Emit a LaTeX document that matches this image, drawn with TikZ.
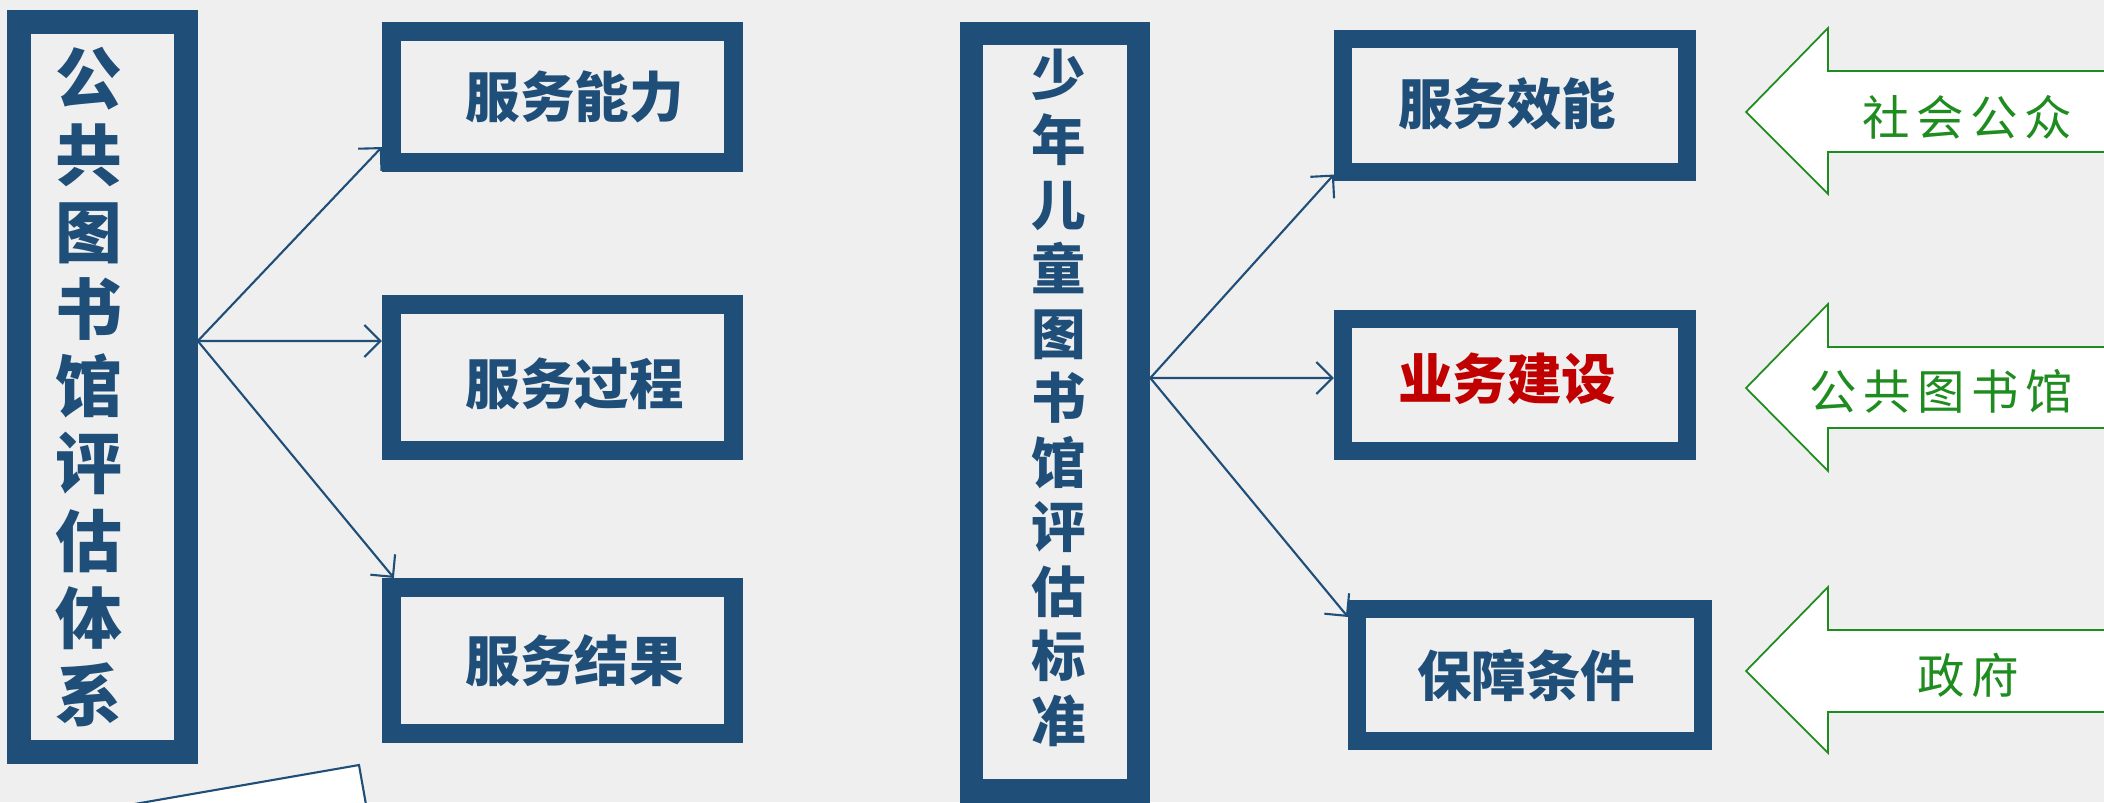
\documentclass[tikz,border=0pt]{standalone}
\usepackage{fontspec}
\usepackage{xcolor}
\usetikzlibrary{arrows.meta,positioning}
\newfontfamily\cjk{Noto Sans CJK SC}
\definecolor{boxblue}{HTML}{1F4E79}
\definecolor{markred}{HTML}{C00000}
\definecolor{sidegreen}{HTML}{1E8C1E}
\definecolor{backgray}{HTML}{EFEFEF}

\begin{document}
\begin{tikzpicture}[x=0.01cm, y=-0.01cm,
    tallbox/.style={rectangle, draw=boxblue, line width=0.235cm, inner sep=0pt, minimum width=1.67cm},
    itembox/.style={rectangle, draw=boxblue, line width=0.19cm, inner sep=0pt, minimum width=3.42cm, minimum height=1.32cm},
    talltext/.style={align=center, text=boxblue, inner sep=0pt},
    itemtext/.style={text=boxblue, inner sep=0pt, font=\cjk\bfseries\fontsize{15.5}{18}\selectfont},
    link/.style={-{Straight Barb[length=1.6mm, width=3.2mm]}, draw=boxblue, line width=0.6pt},
    sidearrow/.style={draw=sidegreen, fill=white, line width=0.5pt},
    sidetext/.style={text=sidegreen, font=\cjk\fontsize{13.5}{15}\selectfont, inner sep=0pt},
    paper/.style={draw=boxblue, fill=white, line width=0.6pt}
]

% Page and background
\useasboundingbox (0,0) rectangle (2104,802);
\clip (0,0) rectangle (2104,802);
\fill[backgray] (0,0) rectangle (2104,802);

% Left group
\node[tallbox, minimum height=7.30cm] (lib) at (102.5, 387) {};
\node[talltext, xshift=-0.14cm, font=\cjk\bfseries\fontsize{19}{21.9}\selectfont] (libtext) at (lib) {
    公\\共\\图\\书\\馆\\评\\估\\体\\系
};

\node[itembox, minimum height=1.31cm] (cap) at (562.5, 97) {};
\node[itembox, minimum height=1.46cm] (proc) at (562.5, 377.5) {};
\node[itembox, minimum height=1.46cm] (res) at (562.5, 660.5) {};
\node[itemtext, xshift=0.12cm] (captext) at (cap) {服务能力};
\node[itemtext, xshift=0.12cm, yshift=-0.06cm] (proctext) at (proc) {服务过程};
\node[itemtext, xshift=0.12cm] (restext) at (res) {服务结果};

\draw[link] ([yshift=0.46cm]lib.east) -- ([yshift=-0.50cm]cap.west);
\draw[link] ([yshift=0.46cm]lib.east) -- ([yshift=0.365cm]proc.west);
\draw[link] ([yshift=0.46cm]lib.east) -- ([xshift=0.12cm]res.north west);

% Right group
\node[tallbox, minimum height=7.57cm] (kids) at (1055, 412) {};
\node[talltext, xshift=0.04cm, yshift=0.14cm, font=\cjk\bfseries\fontsize{15.5}{18.35}\selectfont] (kidstext) at (kids) {
    少\\年\\儿\\童\\图\\书\\馆\\评\\估\\标\\准
};

\node[itembox, line width=0.18cm, minimum width=3.44cm] (eff) at (1515, 105.5) {};
\node[itembox, line width=0.18cm, minimum width=3.44cm] (build) at (1515, 385) {};
\node[itembox, line width=0.18cm, minimum width=3.46cm] (cond) at (1530, 675) {};
\node[itemtext, xshift=-0.08cm, yshift=0.02cm] (efftext) at (eff) {服务效能};
\node[itemtext, xshift=-0.08cm, yshift=0.06cm, text=markred] (buildtext) at (build) {业务建设};
\node[itemtext, xshift=-0.04cm] (condtext) at (cond) {保障条件};

\draw[link] ([yshift=0.34cm]kids.east) -- ([yshift=0.06cm]eff.south west);
\draw[link] ([yshift=0.34cm]kids.east) -- ([yshift=0.07cm]build.west);
\draw[link] ([yshift=0.34cm]kids.east) -- ([yshift=-0.17cm]cond.north west);

% Green arrows from the right
\draw[sidearrow] (1746,112) -- (1828,28) -- (1828,71) -- (2115,71) -- (2115,152) -- (1828,152) -- (1828,194) -- cycle;
\node[sidetext] (public) at (1967,117) {社\hspace{0.14em}会\hspace{0.14em}公\hspace{0.14em}众};

\draw[sidearrow] (1746,388) -- (1828,304) -- (1828,347) -- (2115,347) -- (2115,428) -- (1828,428) -- (1828,471) -- cycle;
\node[sidetext] (plib) at (1941,391) {公\hspace{0.14em}共\hspace{0.14em}图\hspace{0.14em}书\hspace{0.14em}馆};

\draw[sidearrow] (1746,671) -- (1828,587) -- (1828,630) -- (2115,630) -- (2115,712) -- (1828,712) -- (1828,753) -- cycle;
\node[sidetext] (gov) at (1968,675) {政\hspace{0.14em}府};

% Tilted sheet at the bottom
\draw[paper] (100,810) -- (359,765) -- (374,850) -- (100,850) -- cycle;

\end{tikzpicture}
\end{document}
